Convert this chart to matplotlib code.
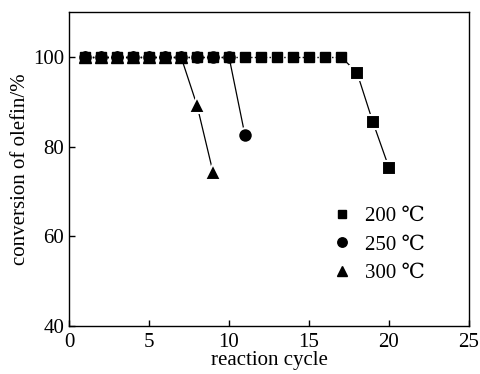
import matplotlib.pyplot as plt
from matplotlib.lines import Line2D

plt.rcParams['font.family'] = ['Liberation Serif', 'DejaVu Serif']

# conversion of olefin (%) per reaction cycle
cycles_200 = list(range(1, 21))
conv_200 = [100] * 17 + [96.5, 85.4, 75.3]
cycles_250 = list(range(1, 12))
conv_250 = [100] * 10 + [82.5]
cycles_300 = list(range(1, 10))
conv_300 = [100] * 7 + [89.2, 74.3]

series = [
    ('200 ℃', cycles_200, conv_200, 's', 7, 17),
    ('250 ℃', cycles_250, conv_250, 'o', 8, 10),
    ('300 ℃', cycles_300, conv_300, '^', 8.5, 7),
]

fig = plt.figure(figsize=(4.81, 3.74), dpi=100)
ax = fig.add_axes([0.1435, 0.128, 0.8315, 0.84])

handles = []
for label, x, y, mk, ms, n in series:
    # plateau at 100% drawn dotted, decline drawn solid
    ax.plot(x[:n], y[:n], ls=':', color='black', lw=1)
    ax.plot(x[n - 1:], y[n - 1:], ls='-', color='black', lw=0.9)
    ax.plot(x[:n], y[:n], ls='none', marker=mk, ms=ms, color='black')
    # white edge leaves a small gap between line and marker
    ax.plot(x[n:], y[n:], ls='none', marker=mk, ms=ms + 2.5, color='black',
            mec='white', mew=1.5)
    handles.append(Line2D([], [], ls='none', marker=mk, ms=ms * 0.85, color='black', label=label))

ax.set_xlim(0, 25)
ax.set_ylim(40, 110)
ax.set_xticks([0, 5, 10, 15, 20, 25])
ax.set_yticks([40, 60, 80, 100])
ax.tick_params(direction='in', labelsize=15, length=4, width=1)
ax.tick_params(axis='x', pad=5)
ax.set_xlabel('reaction cycle', fontsize=15, labelpad=-1)
ax.set_ylabel('conversion of olefin/%', fontsize=15, labelpad=2)
for s in ax.spines.values():
    s.set_linewidth(1)

ax.legend(handles=handles, loc='upper left', bbox_to_anchor=(0.61, 0.44),
          frameon=False, fontsize=15, handlelength=1, handletextpad=0.6,
          labelspacing=0.42)

fig.savefig('out.png', dpi=100)
